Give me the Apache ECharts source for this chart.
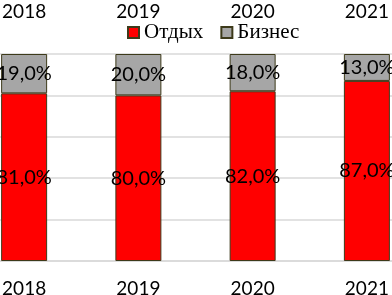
<!DOCTYPE html>
<html>
<head>
<meta charset="utf-8">
<script src="https://cdn.jsdelivr.net/npm/echarts@6/dist/echarts.min.js"></script>
<style>
  html, body { margin: 0; padding: 0; background: #fff; }
  #chart { width: 392px; height: 295px; }
</style>
</head>
<body>
<div id="chart"></div>
<script>
  // данные
  const years = ['2018', '2019', '2020', '2021']
  const rest = [81, 80, 82, 87]      // Отдых
  const business = [19, 20, 18, 13]  // Бизнес
  const yTicks = [0, 20, 40, 60, 80, 100]

  const pct = p => p.value + ',0%'
  const labelStyle = {
    show: true,
    position: 'inside',
    formatter: pct,
    color: '#000',
    fontFamily: 'Lato',
    fontSize: 20
  }

  const chart = echarts.init(document.getElementById('chart'))
  chart.setOption({
    animation: false,
    grid: { left: -33, width: 457, top: 54, bottom: 34, containLabel: false, outerBoundsMode: 'none' },
    legend: {
      left: 127,
      top: 22,
      padding: 0,
      itemWidth: 11,
      itemHeight: 11,
      itemGap: 17,
      icon: 'rect',
      textStyle: { fontFamily: 'Liberation Serif', fontSize: 21, color: '#000' },
      data: ['Отдых', 'Бизнес']
    },
    xAxis: [
      {
        type: 'category',
        data: years,
        position: 'bottom',
        axisLine: { show: true, lineStyle: { color: '#d9d9d9', width: 1.5 } },
        axisTick: { show: false },
        axisLabel: { margin: 18, color: '#000', fontFamily: 'Lato', fontSize: 19 }
      },
      {
        type: 'category',
        data: years,
        position: 'top',
        axisLine: { show: false },
        axisTick: { show: false },
        axisLabel: { margin: 33, color: '#000', fontFamily: 'Lato', fontSize: 19 }
      }
    ],
    yAxis: {
      type: 'value',
      min: yTicks[0],
      max: yTicks[yTicks.length - 1],
      interval: yTicks[1] - yTicks[0],
      axisLabel: { show: false },
      axisLine: { show: false },
      axisTick: { show: false },
      splitLine: { lineStyle: { color: '#d9d9d9', width: 1.5 } }
    },
    series: [
      {
        name: 'Отдых',
        type: 'bar',
        stack: 'total',
        barWidth: 46,
        data: rest,
        itemStyle: { color: '#ff0000', borderColor: '#3d3a1a', borderWidth: 1 },
        label: labelStyle
      },
      {
        name: 'Бизнес',
        type: 'bar',
        stack: 'total',
        barWidth: 46,
        data: business,
        itemStyle: { color: '#a6a6a6', borderColor: '#3d3a1a', borderWidth: 1 },
        label: labelStyle
      }
    ]
  })
</script>
</body>
</html>
